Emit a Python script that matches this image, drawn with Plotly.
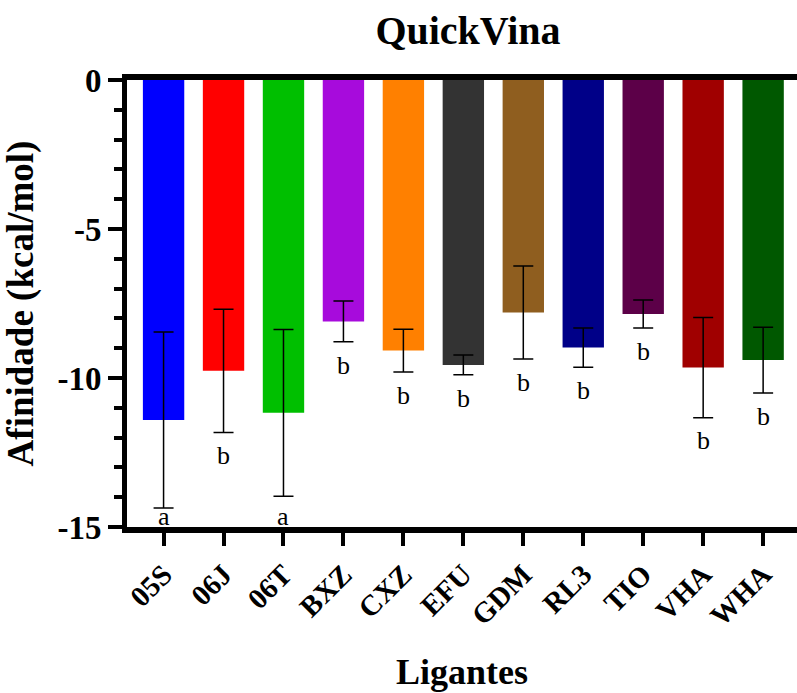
import numpy as np
import plotly.graph_objects as go

ligands = ["05S", "06J", "06T", "BXZ", "CXZ", "EFU", "GDM", "RL3", "TIO", "VHA", "WHA"]
affinity = [-11.41, -9.76, -11.17, -8.10, -9.08, -9.56, -7.80, -8.98, -7.85, -9.65, -9.40]
sd = [2.95, 2.07, 2.80, 0.68, 0.72, 0.33, 1.56, 0.66, 0.47, 1.68, 1.10]
letters = ["a", "b", "a", "b", "b", "b", "b", "b", "b", "b", "b"]
colors = ["#0000FF", "#FF0000", "#00BF00", "#A70BDC", "#FF8000", "#333333",
          "#8F5E1F", "#000088", "#5C0048", "#A00000", "#005800"]
y_ticks = [0, -5, -10, -15]

FONT = "Liberation Serif"

fig = go.Figure()
fig.add_trace(go.Bar(
    x=ligands, y=affinity, width=0.69,
    marker=dict(color=colors, line=dict(width=0)),
    error_y=dict(type="data", array=sd, color="black", thickness=1.5, width=10),
    showlegend=False,
))

lo = np.array(affinity) - np.array(sd)
label_y = np.maximum(lo - 0.23, -14.1)
for lig, ly, txt in zip(ligands, label_y, letters):
    fig.add_annotation(x=lig, y=ly, text=txt, showarrow=False, yanchor="top",
                       xanchor="center", font=dict(family=FONT, size=26, color="black"))

fig.update_layout(
    width=797, height=693,
    margin=dict(l=127, r=0, t=80, b=166),
    plot_bgcolor="white", paper_bgcolor="white",
    title=dict(text="QuickVina", x=468/797, xref="container", xanchor="center",
               y=1 - 30/693, yref="container", yanchor="middle",
               font=dict(family=FONT, size=40, color="black", weight="bold")),
    bargap=0.31,
)
fig.update_xaxes(
    type="category", range=[-0.61, 10.565],
    showline=True, linewidth=6, linecolor="black", mirror=True,
    ticks="outside", ticklen=13, tickwidth=4, tickcolor="black",
    tickangle=-45, showgrid=False, zeroline=False,
    tickfont=dict(family=FONT, size=29, color="black", weight="bold"),
    title=dict(text="Ligantes", standoff=30,
               font=dict(family=FONT, size=36, color="black", weight="bold")),
)
fig.update_yaxes(
    range=[-15, 0], tickvals=y_ticks, ticktext=[str(v) for v in y_ticks],
    showline=True, linewidth=5, linecolor="black",
    ticks="outside", ticklen=14, tickwidth=4, tickcolor="black",
    minor=dict(dtick=1, ticks="outside", ticklen=8, tickwidth=4, tickcolor="black", showgrid=False),
    showgrid=False, zeroline=False,
    tickfont=dict(family=FONT, size=33, color="black", weight="bold"),
    title=dict(text="Afinidade (kcal/mol)", standoff=14,
               font=dict(family=FONT, size=37, color="black", weight="bold")),
)

fig.write_html("out.html")
